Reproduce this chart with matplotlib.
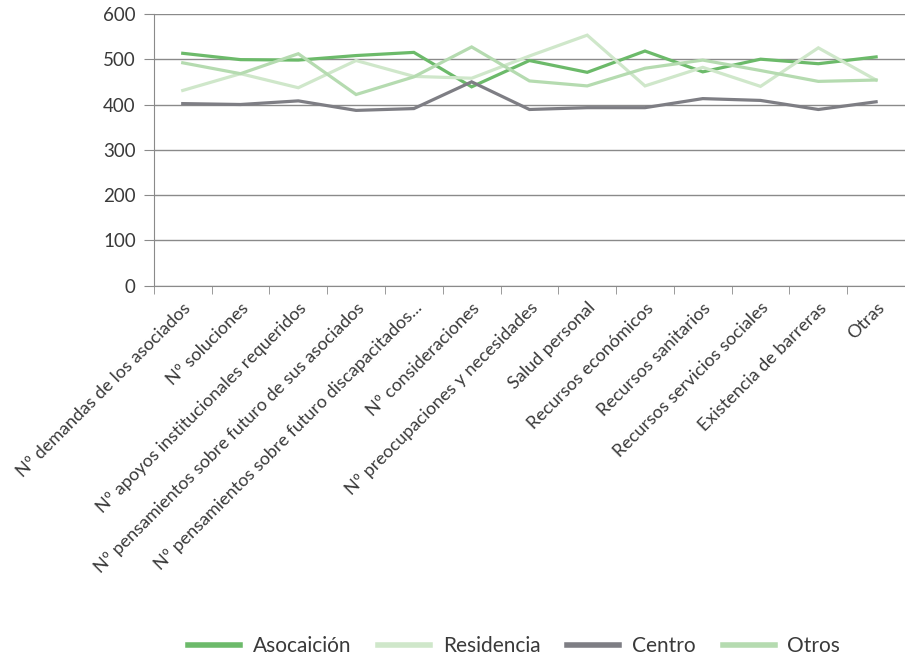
import matplotlib.pyplot as plt
import numpy as np

# Categorías del eje X
categorias = [
    "Nº demandas de los asociados",
    "Nº soluciones",
    "Nº apoyos institucionales requeridos",
    "Nº pensamientos sobre futuro de sus asociados",
    "Nº pensamientos sobre futuro discapacitados...",
    "Nº consideraciones",
    "Nº preocupaciones y necesidades",
    "Salud personal",
    "Recursos económicos",
    "Recursos sanitarios",
    "Recursos servicios sociales",
    "Existencia de barreras",
    "Otras",
]

asociacion = [513, 499, 498, 508, 515, 439, 497, 471, 518, 472, 500, 490, 505]
residencia = [431, 468, 437, 497, 462, 458, 507, 553, 441, 482, 440, 525, 454]
centro = [402, 400, 408, 387, 391, 450, 389, 393, 393, 413, 409, 389, 406]
otros = [492, 468, 512, 422, 461, 527, 452, 441, 480, 498, 475, 451, 454]

series = [
    ("Asocaición", asociacion, "#6cba6a"),
    ("Residencia", residencia, "#cfe7ca"),
    ("Centro", centro, "#7e7e84"),
    ("Otros", otros, "#b5dbb0"),
]

plt.rcParams['font.family'] = ['Lato', 'DejaVu Sans']

fig = plt.figure(figsize=(9.05, 6.6), dpi=100)
ax = fig.add_axes([0.170, 0.567, 0.830, 0.412])

x = np.arange(len(categorias))
for nombre, valores, color in series:
    ax.plot(x, valores, color=color, lw=2.3, label=nombre, solid_joinstyle='miter')

ax.set_xlim(-0.5, len(categorias) - 0.5)
ax.set_ylim(0, 600)
ax.set_yticks(range(0, 601, 100))
ax.yaxis.grid(True, color='#8a8a8a', lw=1)
ax.set_axisbelow(True)

# Etiquetas en el centro, marcas de división entre categorías
ax.set_xticks(x)
ax.set_xticklabels(categorias, rotation=45, ha='right', va='top',
                   rotation_mode='anchor', fontsize=13, color='#3a3a3a')
ax.set_xticks(np.arange(-0.5, len(categorias)), minor=True)
ax.tick_params(axis='x', which='major', length=0, pad=10)
ax.tick_params(axis='x', which='minor', length=6, color='#8a8a8a')
ax.tick_params(axis='y', length=7, color='#8a8a8a', labelsize=13.5, labelcolor='#3a3a3a', pad=6)

for lado in ['top', 'right']:
    ax.spines[lado].set_visible(False)
for lado in ['left', 'bottom']:
    ax.spines[lado].set_color('#8a8a8a')

ley = fig.legend(loc='center', bbox_to_anchor=(0.568, 0.021), ncol=4, frameon=False,
                 fontsize=15, handlelength=2.5, columnspacing=1.3, handletextpad=0.6,
                 labelcolor='#3a3a3a')
for linea in ley.get_lines():
    linea.set_linewidth(4)

fig.savefig('out.png', dpi=100)
